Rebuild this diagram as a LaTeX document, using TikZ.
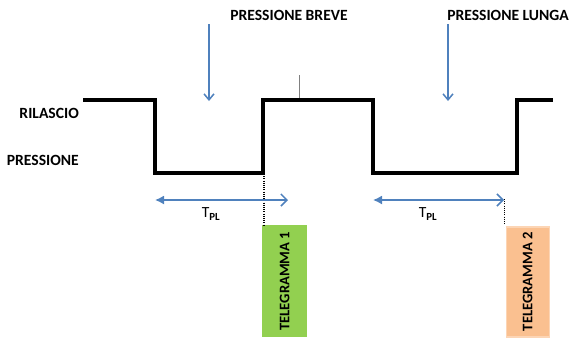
\documentclass[tikz,border=0pt]{standalone}
\usepackage{fontspec}
\setmainfont{Carlito}
\usetikzlibrary{arrows.meta}
\definecolor{arrblue}{HTML}{4F81BD}
\definecolor{tgreen}{HTML}{92D050}
\definecolor{torange}{HTML}{FAC090}
\definecolor{toborder}{HTML}{FCD5B5}
\begin{document}
\begin{tikzpicture}[x=1pt,y=-1pt,
  lbl/.style={font=\fontsize{15.6}{17}\selectfont\bfseries, inner sep=0pt},
  wave/.style={line width=4pt, line join=miter},
  pressarrow/.style={arrblue, line width=1.5pt, -{Straight Barb[length=6pt,width=10pt]}},
  tarrow/.style={arrblue, line width=1.5pt, {Latex[length=9pt,width=9pt]}-{Straight Barb[length=6pt,width=12pt]}},
  dots/.style={line width=1.5pt, dash pattern=on 1pt off 1.2pt},
  tbox/.style={minimum width=45pt, minimum height=112pt, inner sep=0pt, anchor=north west},
  tlbl/.style={rotate=90, font=\fontsize{14.6}{16}\selectfont\bfseries, inner sep=0pt}
]
\useasboundingbox (0,0) rectangle (572,338);
% labels
\node[lbl, anchor=east] (ril) at (79,113) {RILASCIO};
\node[lbl, anchor=east] (pre) at (79,160) {PRESSIONE};
\node[lbl] (breve) at (289,15) {PRESSIONE BREVE};
\node[lbl] (lunga) at (508,15) {PRESSIONE LUNGA};
% waveform
\draw[wave] (83,99.5) -- (155,99.5) -- (155,172.5) -- (263,172.5) -- (263,99.5) -- (373,99.5) -- (373,172.5) -- (517,172.5) -- (517,99.5) -- (553,99.5);
% small tick
\coordinate (tickA) at (299.5,75);
\coordinate (tickB) at (299.5,98);
\draw[gray, line width=0.8pt] (tickA) -- (tickB);
% press arrows
\coordinate (a1s) at (209,24);
\coordinate (a1e) at (209,101);
\coordinate (a2s) at (448,24);
\coordinate (a2e) at (448,101);
\draw[pressarrow] (a1s) -- (a1e);
\draw[pressarrow] (a2s) -- (a2e);
% boxes
\node[tbox, fill=tgreen] (t1) at (262,225) {};
\node[tlbl] at (t1.center) {TELEGRAMMA 1};
\node[tbox, fill=torange, draw=toborder, line width=1.5pt, minimum width=43pt, minimum height=110pt] (t2) at (505.5,226) {};
\node[tlbl] at (t2.center) {TELEGRAMMA 2};
% dotted lines
\coordinate (d1) at (264,174);
\draw[dots] (d1) -- (t1.north west -| d1);
\coordinate (d2) at (504.5,199);
\draw[dots] (d2) -- (504.5,224);
% T_PL arrows
\coordinate (p1s) at (155,200);
\coordinate (p1e) at (288,200);
\coordinate (p2s) at (373,200);
\coordinate (p2e) at (504,200);
\draw[tarrow] (p1s) -- (p1e);
\draw[tarrow] (p2s) -- (p2e);
\node[font=\fontsize{15.5}{16}\selectfont, inner sep=0pt] (tpl1) at (211,214) {T\textsubscript{\bfseries PL}};
\node[font=\fontsize{15.5}{16}\selectfont, inner sep=0pt] (tpl2) at (428,214) {T\textsubscript{\bfseries PL}};
\end{tikzpicture}
\end{document}
